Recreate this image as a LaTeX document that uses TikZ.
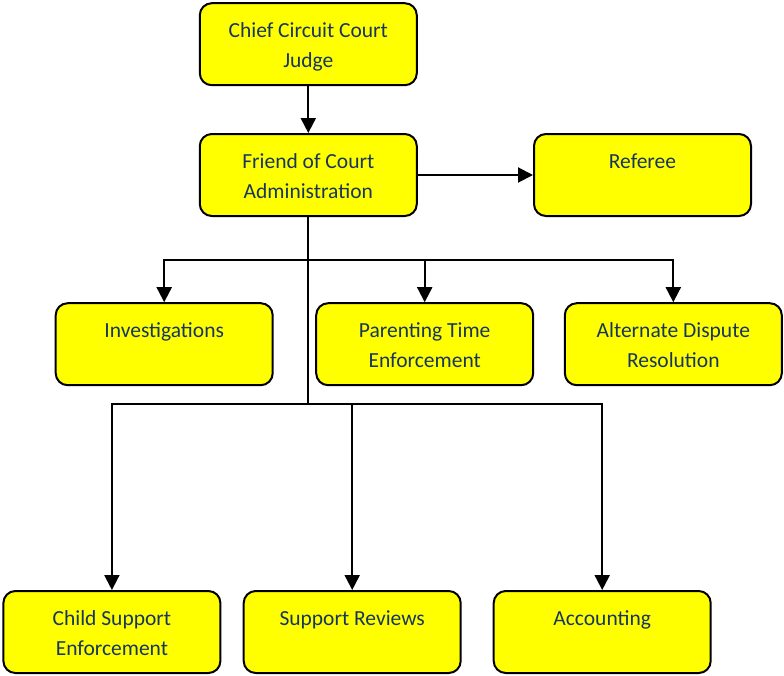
\documentclass[tikz,border=0pt]{standalone}
\usepackage{fontspec}
\setmainfont{Carlito}
\usetikzlibrary{positioning,arrows.meta}
\definecolor{CourtNavy}{HTML}{17365D}
\definecolor{CourtYellow}{HTML}{FFFF00}
\newcommand{\boxstrut}{\rule[-6.8pt]{0pt}{30pt}}
\tikzstyle{OfficeBox}=[rectangle, rounded corners=12pt, draw=black, fill=CourtYellow, line width=2pt, minimum width=217pt, minimum height=82pt, inner sep=0pt, align=center, text=CourtNavy, font=\fontsize{21.5}{30}\selectfont]
\tikzstyle{Link}=[line width=2pt, -{Triangle[length=15pt,width=15pt]}]

\begin{document}
\begin{tikzpicture}
			\useasboundingbox (0,0) rectangle (784pt,-675pt);
			%Nodos
			\node[OfficeBox]	(chief)		at (308.3pt,-44.2pt)			{\boxstrut Chief Circuit Court\\\boxstrut Judge};
			\node[OfficeBox]	(friend)	[below=46.8pt of chief]		{\boxstrut Friend of Court\\\boxstrut Administration};
			\node[OfficeBox]	(referee)	[right=115.2pt of friend]		{\boxstrut Referee\\\boxstrut};

			\node[OfficeBox]	(parenting)	[below=85.2pt of friend, xshift=116.4pt]	{\boxstrut Parenting Time\\\boxstrut Enforcement};
			\node[OfficeBox]	(invest)	[left=41.5pt of parenting]	{\boxstrut Investigations\\\boxstrut};
			\node[OfficeBox]	(adr)		[right=29.6pt of parenting]	{\boxstrut Alternate Dispute\\\boxstrut Resolution};

			\node[OfficeBox]	(reviews)	[below=203.8pt of parenting, xshift=-72.5pt]	{\boxstrut Support Reviews\\\boxstrut};
			\node[OfficeBox]	(child)		[left=21.3pt of reviews]		{\boxstrut Child Support\\\boxstrut Enforcement};
			\node[OfficeBox]	(accounting)	[right=31pt of reviews]	{\boxstrut Accounting\\\boxstrut};

			%Flechas
			\draw[Link] (chief) -- (friend);
			\draw[Link] (friend) -- (referee);

			\draw[Link] (friend.south) -- ++(0,-43pt) -| (invest.north);
			\draw[Link] (friend.south) -- ++(0,-43pt) -| (parenting.north);
			\draw[Link] (friend.south) -- ++(0,-43pt) -| (adr.north);

			\draw[Link] (friend.south) -- ++(0,-186.5pt) -| (child.north);
			\draw[Link] (friend.south) -- ++(0,-186.5pt) -| (reviews.north);
			\draw[Link] (friend.south) -- ++(0,-186.5pt) -| (accounting.north);
		\end{tikzpicture}
\end{document}
